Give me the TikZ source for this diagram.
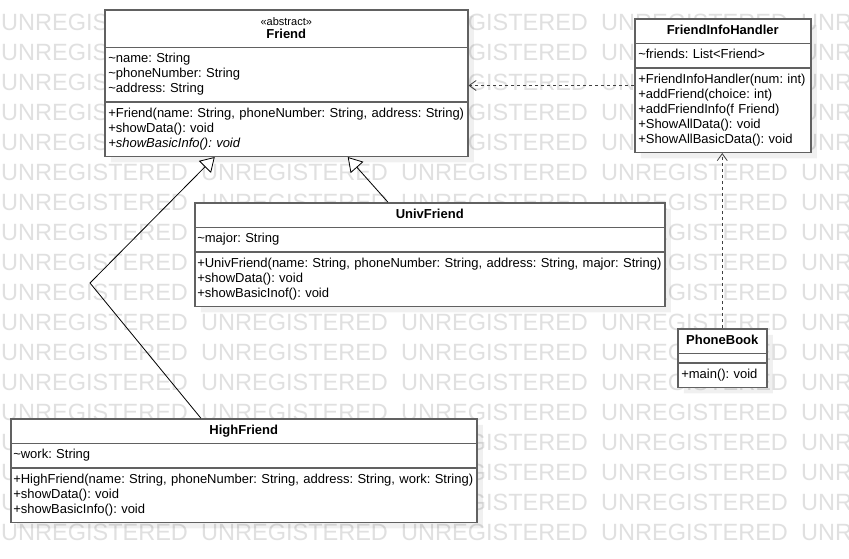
\documentclass[tikz,border=0pt]{standalone}
\usepackage{fontspec}
\setmainfont{Liberation Sans}
\usetikzlibrary{arrows.meta,shapes.multipart,shadows}
\frenchspacing
\newcommand{\cpart}[1]{\strut#1\strut}
\newcommand{\cname}[1]{\makebox[\linewidth][c]{#1}}

\begin{document}
\begin{tikzpicture}[x=1pt, y=-1pt,
        umlclass/.style={rectangle split, rectangle split parts=3, anchor=north west,
            draw=black!62, line width=1.5pt, fill=white, align=left,
            inner xsep=3.5pt, inner ysep=4pt, font=\fontsize{13}{15}\selectfont,
            drop shadow={shadow xshift=6pt, shadow yshift=-6pt, fill=black, opacity=0.06}},
        watermark/.style={anchor=base west, inner sep=0pt, text=black!12,
            font=\fontsize{23.5}{26}\selectfont},
        inherit/.style={black, line width=0.8pt, -{Triangle[length=14pt, width=17pt, fill=white]}},
        depend/.style={black!75, line width=0.8pt, dash pattern=on 3pt off 3pt,
            -{Straight Barb[length=7pt, width=10pt]}}]
        \useasboundingbox (0,0) rectangle (849,558);
        \clip (0,0) rectangle (849,558);
        \fill [white] (0,0) rectangle (849,558);

        \foreach \row in {0,...,17}
            \foreach \col in {0,...,4}
                \node [watermark] (wm-\row-\col) at (1+200*\col, 30+30*\row) {UNREGISTERED};

        \node [umlclass, text width=356pt] (friend) at (104,9) {\cpart{\cname{\fontsize{11}{15}\selectfont «abstract»}\\[-2pt] \cname{\textbf{Friend}}}
            \nodepart{second}\cpart{\textasciitilde name: String\\ \textasciitilde phoneNumber: String\\ \textasciitilde address: String}
            \nodepart{third}\cpart{\mbox{+Friend(name: String, phoneNumber: String, address: String)}\\ +showData(): void\\ \textit{+showBasicInfo(): void}}};

        \node [umlclass, text width=169pt] (handler) at (634,18) {\cpart{\cname{\textbf{FriendInfoHandler}}}
            \nodepart{second}\cpart{\textasciitilde friends: List<Friend>}
            \nodepart{third}\cpart{+FriendInfoHandler(num: int)\\ +addFriend(choice: int)\\ +addFriendInfo(f Friend)\\ +ShowAllData(): void\\ +ShowAllBasicData(): void}};

        \node [umlclass, text width=465pt, inner xsep=2.5pt] (univ) at (194,202) {\cpart{\cname{\textbf{UnivFriend}}}
            \nodepart{second}\cpart{\textasciitilde major: String}
            \nodepart{third}\cpart{\mbox{+UnivFriend(name: String, phoneNumber: String, address: String, major: String)}\\ +showData(): void\\ +showBasicInof(): void}};

        \node [umlclass, text width=82pt] (phonebook) at (677,328) {\cpart{\cname{\textbf{PhoneBook}}}
            \nodepart{second}\rule{0pt}{0pt}
            \nodepart{third}\cpart{+main(): void}};

        \node [umlclass, text width=461pt, inner xsep=2.5pt] (high) at (10,418) {\cpart{\cname{\textbf{HighFriend}}}
            \nodepart{second}\cpart{\textasciitilde work: String}
            \nodepart{third}\cpart{\mbox{+HighFriend(name: String, phoneNumber: String, address: String, work: String)}\\ +showData(): void\\ +showBasicInfo(): void}};

        \coordinate (bend) at (90,283);
        \draw [inherit] ([xshift=-42pt]univ.north) -- ([xshift=61.5pt]friend.south);
        \draw [inherit] ([xshift=-43pt]high.north) -- (bend) -- ([xshift=-71.5pt]friend.south);
        \draw [depend] (handler.west) -- (handler.west -| friend.east);
        \draw [depend] (phonebook.north) -- (phonebook.north |- handler.south);
    \end{tikzpicture}
\end{document}
